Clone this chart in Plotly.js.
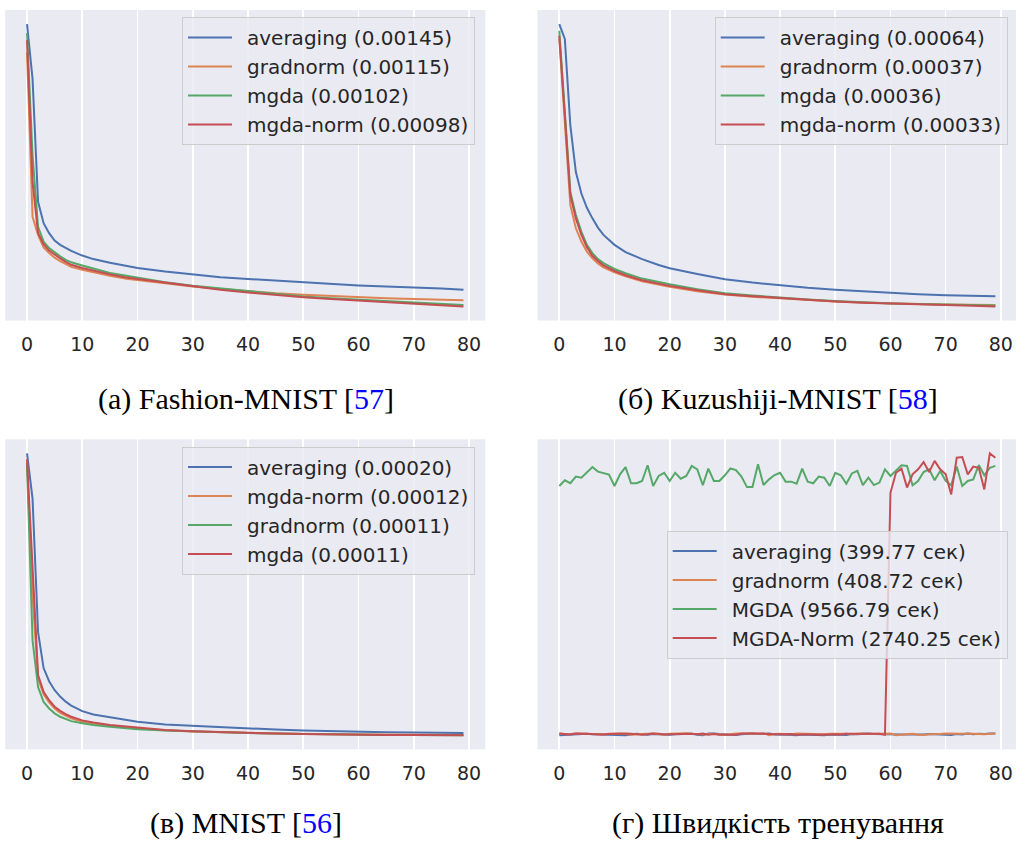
<!DOCTYPE html>
<html>
<head>
<meta charset="utf-8">
<script src="https://cdn.plot.ly/plotly-3.0.1.min.js"></script>
<style>html,body{margin:0;padding:0;background:#fff;}#chart{width:1016px;height:842px;}</style>
</head>
<body>
<div id="chart"></div>
<script>
// ---------- data ----------
const XTICKS = [0, 10, 20, 30, 40, 50, 60, 70, 80];
const EPOCHS_SPARSE = [0,1,2,3,4,5,6,7,8,10,12,15,18,20,25,30,35,40,45,50,55,60,65,70,75,79];

// (a) Fashion-MNIST
const fm_averaging = [0.00892,0.00738,0.00392,0.00332,0.00304,0.00283,0.00271,0.00262,0.00254,0.00241,0.00231,0.00221,0.00211,0.00206,0.00196,0.00187,0.00180,0.00175,0.00170,0.00165,0.00161,0.00157,0.00154,0.00150,0.00148,0.00145];
const fm_gradnorm  = [0.00812,0.00350,0.00299,0.00264,0.00248,0.00235,0.00225,0.00216,0.00209,0.00201,0.00194,0.00184,0.00176,0.00172,0.00163,0.00154,0.00147,0.00140,0.00135,0.00131,0.00127,0.00123,0.00121,0.00119,0.00117,0.00115];
const fm_mgda      = [0.00867,0.00523,0.00322,0.00280,0.00262,0.00250,0.00239,0.00229,0.00222,0.00213,0.00204,0.00192,0.00184,0.00179,0.00166,0.00156,0.00148,0.00140,0.00132,0.00126,0.00121,0.00117,0.00113,0.00109,0.00106,0.00102];
const fm_mgdanorm  = [0.00847,0.00448,0.00304,0.00273,0.00255,0.00243,0.00233,0.00223,0.00215,0.00206,0.00198,0.00188,0.00179,0.00175,0.00164,0.00153,0.00145,0.00137,0.00130,0.00124,0.00119,0.00114,0.00110,0.00106,0.00101,0.00098];
const fm_names = ['averaging (0.00145)','gradnorm (0.00115)','mgda (0.00102)','mgda-norm (0.00098)'];

// (б) Kuzushiji-MNIST
const km_averaging = [0.00886,0.00841,0.00580,0.00439,0.00374,0.00331,0.00299,0.00271,0.00249,0.00219,0.00197,0.00176,0.00158,0.00148,0.00131,0.00115,0.00105,0.00096,0.00089,0.00083,0.00078,0.00073,0.00070,0.00067,0.00065,0.00064];
const km_gradnorm  = [0.00842,0.00580,0.00339,0.00269,0.00229,0.00198,0.00178,0.00163,0.00151,0.00136,0.00124,0.00109,0.00098,0.00092,0.00079,0.00069,0.00062,0.00057,0.00053,0.00048,0.00045,0.00042,0.00040,0.00039,0.00038,0.00037];
const km_mgda      = [0.00866,0.00625,0.00379,0.00309,0.00259,0.00219,0.00194,0.00176,0.00164,0.00146,0.00133,0.00117,0.00106,0.00100,0.00085,0.00073,0.00066,0.00059,0.00054,0.00049,0.00045,0.00042,0.00040,0.00038,0.00037,0.00036];
const km_mgdanorm  = [0.00851,0.00610,0.00369,0.00299,0.00249,0.00212,0.00186,0.00170,0.00157,0.00140,0.00127,0.00112,0.00101,0.00095,0.00082,0.00070,0.00064,0.00058,0.00053,0.00048,0.00044,0.00041,0.00039,0.00037,0.00035,0.00033];
const km_names = ['averaging (0.00064)','gradnorm (0.00037)','mgda (0.00036)','mgda-norm (0.00033)'];

// (в) MNIST
const mn_averaging = [0.01170,0.00984,0.00435,0.00287,0.00233,0.00196,0.00170,0.00149,0.00133,0.00110,0.00096,0.00084,0.00071,0.00066,0.00055,0.00049,0.00043,0.00038,0.00034,0.00030,0.00027,0.00025,0.00023,0.00022,0.00021,0.00020];
const mn_mgdanorm  = [0.01135,0.00586,0.00244,0.00179,0.00146,0.00121,0.00103,0.00092,0.00080,0.00066,0.00059,0.00050,0.00043,0.00039,0.00031,0.00026,0.00023,0.00020,0.00018,0.00016,0.00015,0.00014,0.00013,0.00013,0.00012,0.00012];
const mn_gradnorm  = [0.01123,0.00401,0.00209,0.00148,0.00121,0.00101,0.00087,0.00077,0.00069,0.00060,0.00053,0.00046,0.00039,0.00036,0.00030,0.00026,0.00023,0.00020,0.00018,0.00016,0.00014,0.00013,0.00012,0.00012,0.00011,0.00011];
const mn_mgda      = [0.01146,0.00722,0.00258,0.00189,0.00155,0.00128,0.00111,0.00098,0.00087,0.00072,0.00063,0.00053,0.00046,0.00041,0.00032,0.00027,0.00023,0.00020,0.00018,0.00016,0.00014,0.00013,0.00012,0.00012,0.00011,0.00011];
const mn_names = ['averaging (0.00020)','mgda-norm (0.00012)','gradnorm (0.00011)','mgda (0.00011)'];

// (г) training speed, seconds per epoch, epochs 0..79
const sp_averaging = [4.6,4.7,4.9,5.2,5.1,5.2,5.0,4.9,5.1,4.8,4.9,4.7,4.6,4.9,5.2,5.0,4.8,5.1,4.9,4.7,4.8,5.0,5.1,5.3,5.2,4.8,4.6,5.3,5.4,5.1,4.9,4.8,4.7,5.0,5.2,5.3,5.1,5.2,5.3,4.9,5.0,4.8,4.7,4.6,4.9,4.8,5.0,4.7,4.6,4.9,5.0,4.8,4.7,5.1,5.0,5.2,5.3,5.1,5.0,5.2,5.1,5.0,4.9,4.9,4.8,4.8,4.9,5.1,5.0,5.2,4.9,4.7,5.1,4.9,5.3,5.0,5.2,5.1,5.4,5.3];
const sp_gradnorm  = [5.3,5.0,5.1,5.4,5.3,5.2,5.1,5.0,4.9,5.2,5.3,5.4,5.1,4.8,5.0,5.2,5.1,5.3,5.0,4.9,5.2,5.4,5.3,5.5,5.2,5.0,4.9,5.1,5.2,4.9,4.8,5.0,5.3,5.4,5.3,5.4,5.2,5.5,4.6,5.1,5.2,5.0,4.9,5.3,5.2,5.4,5.3,5.1,5.0,5.2,5.3,5.1,5.2,5.0,5.3,5.4,5.1,5.2,5.3,5.4,5.3,4.6,4.7,5.0,5.2,4.8,4.7,5.0,4.9,5.1,5.3,5.2,5.0,5.2,5.3,5.1,4.9,5.0,5.2,5.4];
const sp_mgda      = [114.0,116.5,115.2,118.1,117.6,120.1,122.3,120.3,119.5,119.0,114.0,119.1,122.3,115.2,115.2,116.2,123.1,114.0,118.4,119.8,116.2,119.8,117.2,118.4,122.8,121.3,114.3,121.6,116.2,116.2,118.7,121.7,121.0,118.1,113.5,113.5,123.5,114.4,116.9,118.8,119.8,115.9,115.9,115.0,121.6,115.9,115.2,118.1,117.6,114.0,119.8,118.7,115.0,119.5,120.6,114.4,117.6,114.4,115.5,121.3,118.4,120.6,123.1,122.8,114.3,116.2,120.1,121.3,116.5,120.6,116.2,114.3,122.5,114.0,116.2,116.9,123.2,118.7,122.0,122.8];
const sp_mgdanorm  = [5.4,5.2,4.9,5.3,5.2,5.1,4.8,4.7,4.9,5.1,5.3,5.4,5.4,5.2,4.9,4.8,5.0,5.4,5.2,4.9,5.0,5.1,4.9,5.0,5.2,5.0,5.3,4.8,5.1,4.8,4.7,4.9,4.8,5.3,5.2,5.3,5.4,5.4,5.1,5.0,4.9,5.0,5.1,4.8,4.9,5.0,4.9,4.8,5.0,4.9,5.0,4.9,5.2,5.1,5.3,5.2,5.2,5.3,5.2,4.8,111.1,119.8,121.6,113.3,119.1,121.3,124.5,120.1,125.0,121.3,119.1,110.3,126.4,126.7,119.1,122.5,122.0,112.5,128.3,126.4];
const sp_names = ['averaging (399.77 сек)','gradnorm (408.72 сек)','MGDA (9566.79 сек)','MGDA-Norm (2740.25 сек)'];
const SP_EPOCHS = sp_averaging.map((_, i) => i);

const captions = [
  '(a) Fashion-MNIST [<span style="color:#0000FF">57</span>]',
  '(б) Kuzushiji-MNIST [<span style="color:#0000FF">58</span>]',
  '(в) MNIST [<span style="color:#0000FF">56</span>]',
  '(г) Швидкість тренування'
];

// ---------- style ----------
const C = {blue:'#4C72B0', orange:'#DD8452', green:'#55A868', red:'#C44E52'};
const LW = 2;
const GAP = '\u2002'; // visual gap between legend line and label

function mk(x, y, name, color, ax, lg) {
  return {x: x, y: y, name: GAP + name, type: 'scatter', mode: 'lines',
          line: {color: color, width: LW}, xaxis: 'x' + ax, yaxis: 'y' + ax, legend: lg, hoverinfo: 'skip'};
}

const traces = [
  mk(EPOCHS_SPARSE, fm_averaging, fm_names[0], C.blue, '', 'legend'),
  mk(EPOCHS_SPARSE, fm_gradnorm, fm_names[1], C.orange, '', 'legend'),
  mk(EPOCHS_SPARSE, fm_mgda, fm_names[2], C.green, '', 'legend'),
  mk(EPOCHS_SPARSE, fm_mgdanorm, fm_names[3], C.red, '', 'legend'),
  mk(EPOCHS_SPARSE, km_averaging, km_names[0], C.blue, '2', 'legend2'),
  mk(EPOCHS_SPARSE, km_gradnorm, km_names[1], C.orange, '2', 'legend2'),
  mk(EPOCHS_SPARSE, km_mgda, km_names[2], C.green, '2', 'legend2'),
  mk(EPOCHS_SPARSE, km_mgdanorm, km_names[3], C.red, '2', 'legend2'),
  mk(EPOCHS_SPARSE, mn_averaging, mn_names[0], C.blue, '3', 'legend3'),
  mk(EPOCHS_SPARSE, mn_mgdanorm, mn_names[1], C.orange, '3', 'legend3'),
  mk(EPOCHS_SPARSE, mn_gradnorm, mn_names[2], C.green, '3', 'legend3'),
  mk(EPOCHS_SPARSE, mn_mgda, mn_names[3], C.red, '3', 'legend3'),
  mk(SP_EPOCHS, sp_averaging, sp_names[0], C.blue, '4', 'legend4'),
  mk(SP_EPOCHS, sp_gradnorm, sp_names[1], C.orange, '4', 'legend4'),
  mk(SP_EPOCHS, sp_mgda, sp_names[2], C.green, '4', 'legend4'),
  mk(SP_EPOCHS, sp_mgdanorm, sp_names[3], C.red, '4', 'legend4')
];

function yr(arrs) {
  const all = [].concat(...arrs);
  const lo = Math.min(...all), hi = Math.max(...all), pad = (hi - lo) * 0.05;
  return [lo - pad, hi + pad];
}

const W = 1016, H = 842;
const xbase = {
  tickmode: 'array', tickvals: XTICKS, ticktext: XTICKS.map(String),
  showgrid: true, gridcolor: '#FFFFFF', gridwidth: 1.6, zeroline: false, showline: false,
  ticks: 'outside', ticklen: 7, tickcolor: 'rgba(0,0,0,0)',
  tickfont: {family: 'DejaVu Sans', size: 19, color: '#262626'}, fixedrange: true
};
const ybase = {showticklabels: false, showgrid: false, zeroline: false, showline: false, ticks: '', fixedrange: true};
const legbase = {
  bgcolor: 'rgba(234,234,242,0.8)', bordercolor: '#CCCCCC', borderwidth: 1,
  font: {family: 'DejaVu Sans', size: 20, color: '#262626'},
  xanchor: 'right', yanchor: 'top', itemwidth: 44, itemclick: false, itemdoubleclick: false
};

const dxL = [5.2 / W, 485.3 / W], dxR = [537.5 / W, 1];
const dyT = [1 - 320.5 / H, 1 - 10 / H], dyB = [1 - 749.3 / H, 1 - 439.3 / H];

const capFont = {family: 'Liberation Serif', size: 30, color: '#000000'};
function cap(text, x, y, ya) {
  return {text: text, x: x, y: y, xref: 'paper', yref: 'paper', xanchor: 'center', yanchor: ya,
          showarrow: false, font: capFont};
}

const layout = {
  width: W, height: H, margin: {l: 0, r: 0, t: 0, b: 0},
  paper_bgcolor: '#FFFFFF', plot_bgcolor: '#EAEAF2', showlegend: true,
  xaxis:  Object.assign({}, xbase, {domain: dxL, anchor: 'y',  range: [-3.95, 82.95]}),
  yaxis:  Object.assign({}, ybase, {domain: dyT, anchor: 'x',  range: yr([fm_averaging, fm_gradnorm, fm_mgda, fm_mgdanorm])}),
  xaxis2: Object.assign({}, xbase, {domain: dxR, anchor: 'y2', range: [-3.95, 82.74]}),
  yaxis2: Object.assign({}, ybase, {domain: dyT, anchor: 'x2', range: yr([km_averaging, km_gradnorm, km_mgda, km_mgdanorm])}),
  xaxis3: Object.assign({}, xbase, {domain: dxL, anchor: 'y3', range: [-3.95, 82.95]}),
  yaxis3: Object.assign({}, ybase, {domain: dyB, anchor: 'x3', range: yr([mn_averaging, mn_mgdanorm, mn_gradnorm, mn_mgda])}),
  xaxis4: Object.assign({}, xbase, {domain: dxR, anchor: 'y4', range: [-3.95, 82.74]}),
  yaxis4: Object.assign({}, ybase, {domain: dyB, anchor: 'x4', range: yr([sp_averaging, sp_gradnorm, sp_mgda, sp_mgdanorm])}),
  legend:  Object.assign({}, legbase, {x: 475 / W,    y: 1 - 17 / H}),
  legend2: Object.assign({}, legbase, {x: 1007.7 / W, y: 1 - 17 / H}),
  legend3: Object.assign({}, legbase, {x: 475 / W,    y: 1 - 446.5 / H}),
  legend4: Object.assign({}, legbase, {x: 1007.7 / W, y: 1 - 530.5 / H}),
  annotations: [
    cap(captions[0], 245.5 / W, 1 - 399 / H, 'middle'),
    cap(captions[1], 777.5 / W, 1 - 399 / H, 'middle'),
    cap(captions[2], 245.5 / W, 0, 'bottom'),
    cap(captions[3], 777.5 / W, 0, 'bottom')
  ]
};

Plotly.newPlot('chart', traces, layout, {staticPlot: true, displayModeBar: false});
</script>
</body>
</html>
